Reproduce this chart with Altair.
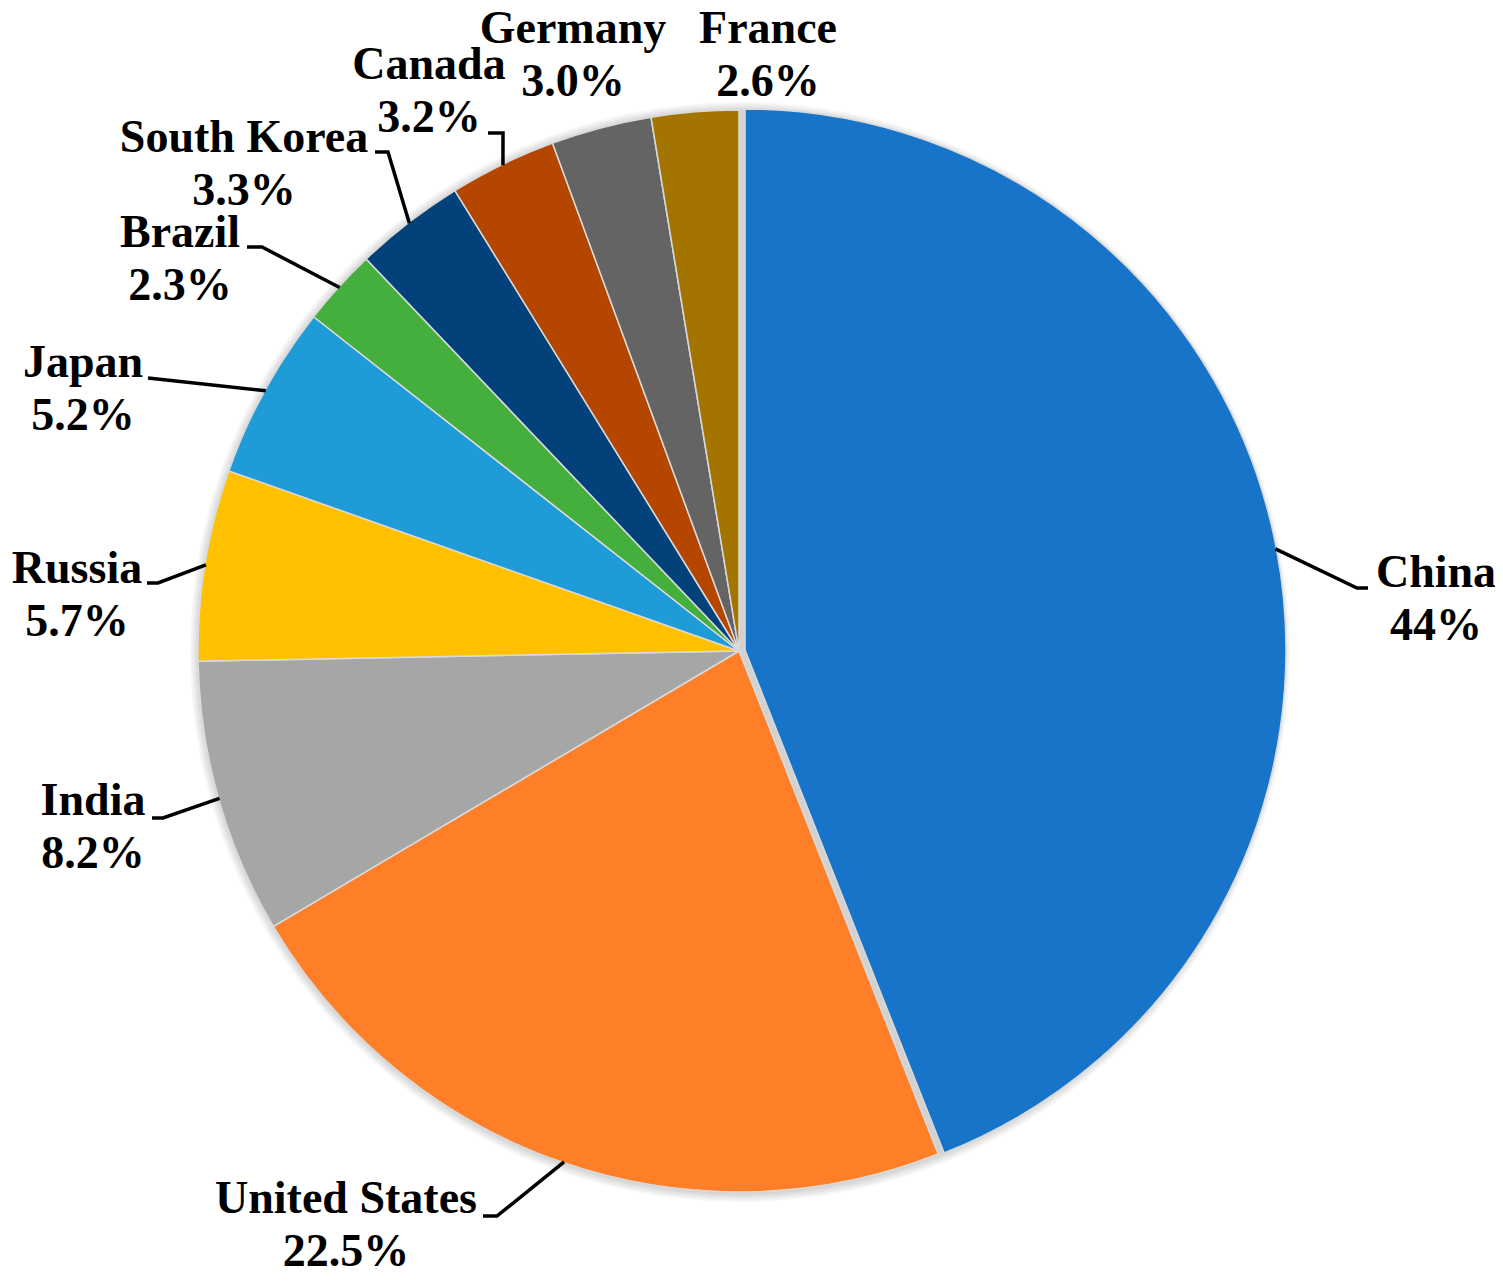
import altair as alt
import numpy as np
import pandas as pd

# ---- data (clockwise from 12 o'clock) ----
countries = ["China", "United States", "India", "Russia", "Japan",
             "Brazil", "South Korea", "Canada", "Germany", "France"]
shares = [44.0, 22.5, 8.2, 5.7, 5.2, 2.3, 3.3, 3.2, 3.0, 2.6]
pct_labels = ["44%", "22.5%", "8.2%", "5.7%", "5.2%",
              "2.3%", "3.3%", "3.2%", "3.0%", "2.6%"]

# ---- styles ----
colors = ["#1874C8", "#FE7F27", "#A6A6A6", "#FFC000", "#1F9BD7",
          "#44AF3D", "#02417A", "#B44600", "#646464", "#A47400"]

# ---- layout (page pixel coordinates) ----
W, H, M = 1487, 1269, 8
CX, CY, R = 739, 651, 541
CHINA_DX, CHINA_DY = 6, -1
LINE_H = 53
FONT_SIZE = 46
label_layout = {
    "China":         dict(tx=1436, ty=587, pts=[(1357, 588), (1368, 588)]),
    "United States": dict(tx=346, ty=1213, pts=[(497, 1216), (483, 1216)]),
    "India":         dict(tx=93, ty=815, pts=[(163, 818), (152, 818)]),
    "Russia":        dict(tx=77, ty=583, pts=[(158, 583), (147, 583)]),
    "Japan":         dict(tx=83, ty=377, pts=[(148, 378)]),
    "Brazil":        dict(tx=180, ty=247, pts=[(262, 247), (247, 247)]),
    "South Korea":   dict(tx=244, ty=152, pts=[(388, 152), (375, 152)]),
    "Canada":        dict(tx=429, ty=79, pts=[(503, 133), (488, 133)]),
    "Germany":       dict(tx=573, ty=43, pts=[]),
    "France":        dict(tx=768, ty=43, pts=[]),
}

df = pd.DataFrame({"country": countries, "share": shares, "pct": pct_labels})
df["end"] = df["share"].cumsum()
df["start"] = df["end"] - df["share"]
total = df["share"].sum()

# leader lines: start on the pie edge at the slice mid-angle
line_rows = []
for _, r in df.iterrows():
    lay = label_layout[r["country"]]
    if not lay["pts"]:
        continue
    mid = (r["start"] + r["share"] / 2) / total * 2 * np.pi
    ox, oy = (CHINA_DX, CHINA_DY) if r["country"] == "China" else (0, 0)
    sx = CX + ox + (R - 1) * np.sin(mid)
    sy = CY + oy - (R - 1) * np.cos(mid)
    pts = [(sx, sy)] + lay["pts"]
    for i, (px, py) in enumerate(pts):
        line_rows.append({"country": r["country"], "seq": i, "x": px, "y": py})
lines_df = pd.DataFrame(line_rows)

text_rows = []
for _, r in df.iterrows():
    lay = label_layout[r["country"]]
    text_rows.append({"t": r["country"], "x": lay["tx"], "y": lay["ty"]})
    text_rows.append({"t": r["pct"], "x": lay["tx"], "y": lay["ty"] + LINE_H})
text_df = pd.DataFrame(text_rows)

xs = alt.Scale(domain=[M, W + M], range=[0, W], nice=False, zero=False)
ys = alt.Scale(domain=[M, H + M], range=[0, H], nice=False, zero=False)

one = pd.DataFrame({"k": [0]})

# soft shadow rings around the pie
shadow_layers = []
for k in [9, 7, 5, 3, 1]:
    shadow_layers.append(
        alt.Chart(one).mark_arc(theta=0, theta2=2 * np.pi, radius=R + k,
                                color="black", opacity=0.035).encode(
            x=alt.value(CX - M + 1), y=alt.value(CY - M + 1))
    )
# light grey under-disc visible in the gaps around the exploded slice
under = alt.Chart(one).mark_arc(theta=0, theta2=2 * np.pi, radius=R, color="#D2D2D2").encode(
    x=alt.value(CX - M), y=alt.value(CY - M))

theta_scale = alt.Scale(domain=[0, float(total)])
base_arc = alt.Chart(df).mark_arc(radius=R, stroke="#DADADA", strokeWidth=1.5).encode(
    theta=alt.Theta("start:Q", scale=theta_scale),
    theta2="end:Q",
    color=alt.Color("country:N", scale=alt.Scale(domain=countries, range=colors), legend=None),
)
others = base_arc.transform_filter("datum.country != 'China'").encode(
    x=alt.value(CX - M), y=alt.value(CY - M))
china = base_arc.transform_filter("datum.country == 'China'").encode(
    x=alt.value(CX - M + CHINA_DX), y=alt.value(CY - M + CHINA_DY))

leaders = alt.Chart(lines_df).mark_line(color="black", strokeWidth=3.5, strokeJoin="miter").encode(
    x=alt.X("x:Q", scale=xs, axis=None),
    y=alt.Y("y:Q", scale=ys, axis=None),
    detail="country:N",
    order="seq:Q",
)

labels = alt.Chart(text_df).mark_text(
    font="Liberation Serif", fontWeight="bold", fontSize=FONT_SIZE,
    align="center", baseline="alphabetic", color="black",
).encode(
    x=alt.X("x:Q", scale=xs, axis=None),
    y=alt.Y("y:Q", scale=ys, axis=None),
    text="t:N",
)

chart = alt.layer(*shadow_layers, under, others, china, leaders, labels).properties(
    width=W, height=H, autosize="none", padding=0, background="white"
).configure_view(stroke=None)

chart.save("out.html", embed_options={"renderer": "svg", "actions": False})
